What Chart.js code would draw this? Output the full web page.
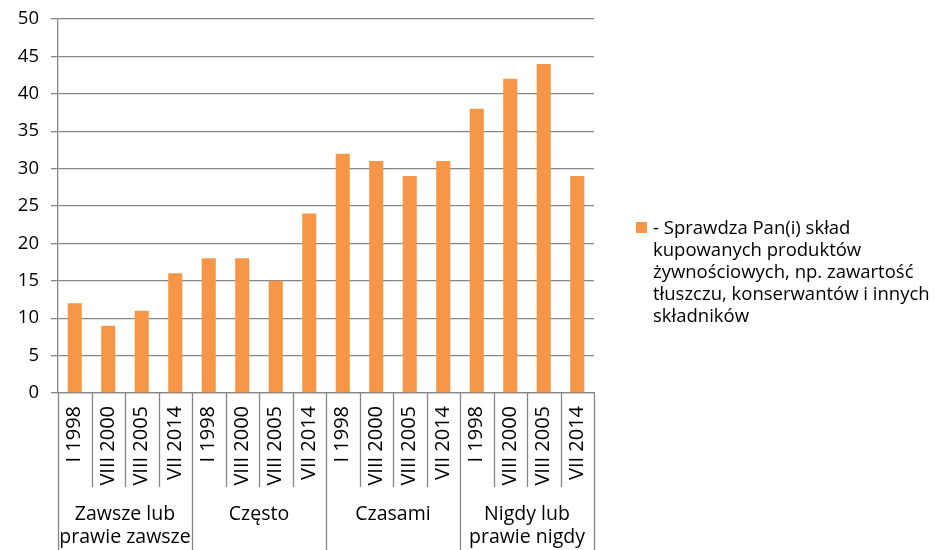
<!DOCTYPE html>
<html>
<head>
<meta charset="utf-8">
<script src="https://cdn.jsdelivr.net/npm/chart.js@4/dist/chart.umd.min.js"></script>
<style>
  body { margin: 0; background: #fff; }
  #wrap { position: relative; width: 935px; height: 550px; }
  #legend { position: absolute; left: 636px; top: 216px; width: 298px; font-family: 'Open Sans', sans-serif; font-size: 18.5px; line-height: 22px; color: #000; }
  #legend .sw { position: absolute; left: 0; top: 6px; width: 11px; height: 11px; }
  #legend .txt { margin-left: 17px; }
</style>
</head>
<body>
<div id="wrap">
  <canvas id="c"></canvas>
  <div id="legend"></div>
</div>
<script>
const ORANGE = '#F79646';
const GRID   = '#868686';
const FONT   = 'Open Sans';

const years  = ['I 1998', 'VIII 2000', 'VIII 2005', 'VII 2014'];
const groups = [['Zawsze lub', 'prawie zawsze'], ['Często'], ['Czasami'], ['Nigdy lub', 'prawie nigdy']];
const values = [12, 9, 11, 16, 18, 18, 15, 24, 32, 31, 29, 31, 38, 42, 44, 29];
const seriesLabel = '- Sprawdza Pan(i) skład kupowanych produktów żywnościowych, np. zawartość tłuszczu, konserwantów i innych składników';

const labels = [];
groups.forEach(() => years.forEach(y => labels.push(y)));

const AXIS_H = 94;   // height of the year-label band
const BOTTOM = 63;   // room for group labels

// separators + group labels of the two-level category axis
const groupAxis = {
  id: 'groupAxis',
  afterDraw(chart) {
    const { ctx, chartArea } = chart;
    const x = chart.scales.x;
    const half = (x.getPixelForValue(1) - x.getPixelForValue(0)) / 2;
    ctx.save();
    ctx.strokeStyle = GRID;
    ctx.lineWidth = 1.3;
    for (let i = 0; i <= labels.length; i++) {
      const px = Math.round(x.getPixelForValue(i) - half) + 0.5;
      const end = i % years.length === 0 ? chart.height : chartArea.bottom + AXIS_H;
      ctx.beginPath();
      ctx.moveTo(px, chartArea.bottom);
      ctx.lineTo(px, end);
      ctx.stroke();
    }
    ctx.fillStyle = '#000';
    ctx.font = '19.5px "' + FONT + '"';
    ctx.textAlign = 'center';
    ctx.textBaseline = 'middle';
    groups.forEach((lines, g) => {
      const cx = x.getPixelForValue(g * years.length + (years.length - 1) / 2);
      lines.forEach((t, k) => ctx.fillText(t, cx, chartArea.bottom + AXIS_H + 27 + k * 23));
    });
    ctx.restore();
  }
};

const chart = new Chart(document.getElementById('c'), {
  type: 'bar',
  data: {
    labels,
    datasets: [{
      label: seriesLabel,
      data: values,
      backgroundColor: ORANGE,
      barPercentage: 0.42,
      categoryPercentage: 1,
    }],
  },
  options: {
    responsive: true, maintainAspectRatio: false, animation: false,
    layout: { padding: { left: 0, top: 19, right: 341, bottom: BOTTOM } },
    plugins: { legend: { display: false }, tooltip: { enabled: false } },
    scales: {
      x: {
        grid: { display: false, drawTicks: false },
        border: { display: true, color: GRID, width: 1.3 },
        ticks: { autoSkip: false, minRotation: 90, maxRotation: 90, padding: 13, color: '#000', font: { family: FONT, size: 20 } },
        afterFit: s => { s.height = AXIS_H; s.paddingLeft = 0; s.paddingRight = 0; },
      },
      y: {
        min: 0, max: 50,
        grid: { color: GRID, lineWidth: 1.3, tickLength: 7 },
        border: { color: GRID, width: 1.3 },
        ticks: { stepSize: 5, padding: 12, color: '#000', font: { family: FONT, size: 18.5 } },
        afterFit: s => { s.width = 58; s.paddingTop = 0; s.paddingBottom = 0; },
      },
    },
  },
  plugins: [groupAxis],
});

const ds = chart.data.datasets[0];
document.getElementById('legend').innerHTML =
  '<span class="sw" style="background:' + ds.backgroundColor + '"></span><div class="txt">' + ds.label + '</div>';
</script>
</body>
</html>
